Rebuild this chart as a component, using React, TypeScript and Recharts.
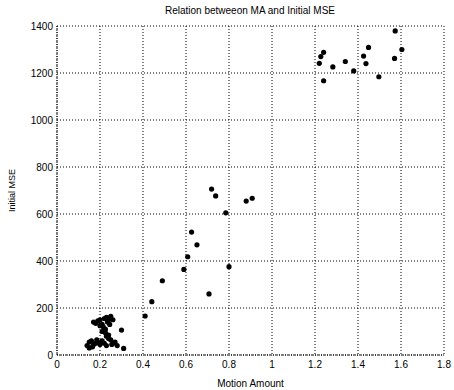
import React from "react";
import {
  ScatterChart,
  Scatter,
  XAxis,
  YAxis,
  CartesianGrid,
} from "recharts";

const xTicks = [0, 0.2, 0.4, 0.6, 0.8, 1, 1.2, 1.4, 1.6, 1.8];
const yTicks = [0, 200, 400, 600, 800, 1000, 1200, 1400];

// low motion cluster near the origin
const lowMA = [
  0.17, 0.18, 0.19, 0.2, 0.21, 0.22, 0.23, 0.24, 0.25, 0.235, 0.215, 0.2, 0.245,
  0.26, 0.225, 0.21, 0.225, 0.23, 0.24, 0.14, 0.15, 0.15, 0.16, 0.17, 0.18,
  0.19, 0.2, 0.21, 0.22, 0.23, 0.25, 0.26, 0.27, 0.28, 0.165, 0.185, 0.24,
  0.255, 0.3, 0.31,
];
const lowMSE = [
  140, 135, 145, 150, 130, 155, 160, 150, 165, 140, 120, 125, 130, 150, 110,
  100, 95, 80, 70, 40, 55, 30, 60, 45, 50, 55, 45, 60, 50, 40, 65, 50, 55, 40,
  35, 65, 85, 45, 106, 28,
];

// middle group
const midMA = [
  0.41, 0.441, 0.49, 0.59, 0.608, 0.626, 0.651, 0.707, 0.719, 0.738, 0.785, 0.8,
  0.88, 0.908,
];
const midMSE = [166, 227, 316, 364, 418, 523, 469, 260, 706, 677, 605, 376, 655, 667];

// high motion group
const highMA = [
  1.22, 1.227, 1.24, 1.24, 1.283, 1.341, 1.38, 1.426, 1.437, 1.449, 1.497,
  1.57, 1.573, 1.604,
];
const highMSE = [
  1241, 1270, 1288, 1167, 1226, 1249, 1209, 1272, 1240, 1309, 1184, 1262, 1379,
  1300,
];

const ma = [...lowMA, ...midMA, ...highMA];
const mse = [...lowMSE, ...midMSE, ...highMSE];
const points = ma.map((x, i) => ({ x, y: mse[i] }));

const font = "'Liberation Sans', Arial, sans-serif";

const Dot = (props: any) => {
  const { cx, cy } = props;
  return <circle cx={cx} cy={cy} r={2.6} fill="#000" />;
};

export default function App() {
  return (
    <div style={{ position: "absolute", left: 0, top: 0, background: "#fff" }}>
      <ScatterChart
        width={454}
        height={390}
        margin={{ top: 26, right: 10, bottom: 10, left: 12 }}
      >
        <text
          x={250}
          y={14}
          textAnchor="middle"
          fontFamily={font}
          fontSize={10}
          fill="#000"
        >
          Relation betweeon MA and Initial MSE
        </text>
        <CartesianGrid
          stroke="#000"
          strokeDasharray="1 2"
          horizontalValues={yTicks}
          verticalValues={xTicks}
        />
        <XAxis
          type="number"
          dataKey="x"
          domain={[0, 1.8]}
          ticks={xTicks}
          height={25}
          tickSize={0}
          tickMargin={6}
          stroke="#000"
          strokeDasharray="1 1"
          tick={{ fontFamily: font, fontSize: 10, fill: "#000" }}
          label={{
            value: "Motion Amount",
            position: "insideBottom",
            offset: -7,
            style: { fontFamily: font, fontSize: 10, fill: "#000" },
          }}
        />
        <YAxis
          type="number"
          dataKey="y"
          domain={[0, 1400]}
          ticks={yTicks}
          width={45}
          tickSize={0}
          tickMargin={4}
          stroke="#000"
          strokeDasharray="1 1"
          tick={{ fontFamily: font, fontSize: 10, fill: "#000" }}
          label={{
            value: "Initial MSE",
            angle: -90,
            position: "insideLeft",
            offset: 0,
            style: {
              fontFamily: font,
              fontSize: 9,
              fill: "#000",
              textAnchor: "middle",
            },
          }}
        />
        <Scatter data={points} shape={<Dot />} isAnimationActive={false} />
      </ScatterChart>
    </div>
  );
}
